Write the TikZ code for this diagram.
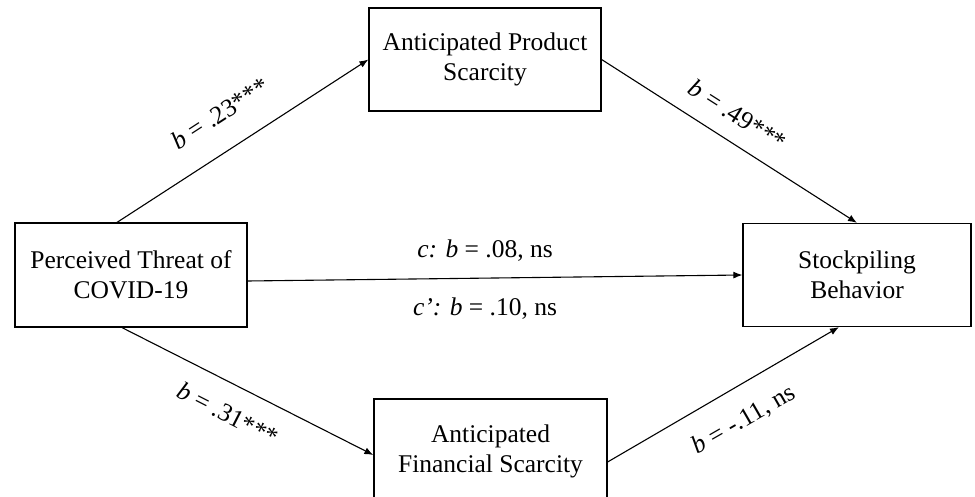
\documentclass[tikz,border=0pt]{standalone}
\usepackage{fontspec}
\setmainfont{Liberation Serif}
\usetikzlibrary{arrows.meta}
\begin{document}
\begin{tikzpicture}[x=1pt,y=-1pt,
  box/.style={draw, line width=1.2pt, align=center, inner sep=0pt, font=\fontsize{25.5}{30}\selectfont},
  pathline/.style={line width=1.1pt, -{Latex[length=9pt,width=7pt]}},
  coef/.style={font=\fontsize{25.5}{30}\selectfont, inner sep=0pt}]
\useasboundingbox (0,0) rectangle (975,497);
\node[box, minimum width=232pt, minimum height=104pt] (L) at (131,275) {Perceived Threat of\\COVID-19};
\node[box, minimum width=232pt, minimum height=103pt] (T) at (485,59.5) {Anticipated Product\\Scarcity};
\node[box, minimum width=228pt, minimum height=103pt] (R) at (857,275) {Stockpiling\\Behavior};
\node[box, minimum width=233pt, minimum height=104pt] (B) at (490.5,451) {Anticipated\\Financial Scarcity};
\draw[pathline] ([xshift=-14pt]L.north) -- (T.west);
\draw[pathline] (T.east) -- (R.north);
\draw[pathline] ([yshift=-6pt]L.east) -- (R.west);
\draw[pathline] ([xshift=-9pt]L.south) -- ([yshift=-4pt]B.west);
\draw[pathline] ([yshift=-11pt]B.east) -- ([xshift=-18pt]R.south);
\node[coef, rotate=33] (c1) at (220,113) {\textit{b} = .23***};
\node[coef, rotate=-32.5] (c2) at (738,115) {\textit{b} = .49***};
\node[coef, rotate=-27] (c3) at (228,414) {\textit{b} = .31***};
\node[coef, rotate=30] (c4) at (744,420) {\textit{b} = -.11, ns};
\node[coef] (c5) at (485,251) {\textit{c:} \textit{b} = .08, ns};
\node[coef] (c6) at (485,309) {\textit{c’:} \textit{b} = .10, ns};
\end{tikzpicture}
\end{document}
